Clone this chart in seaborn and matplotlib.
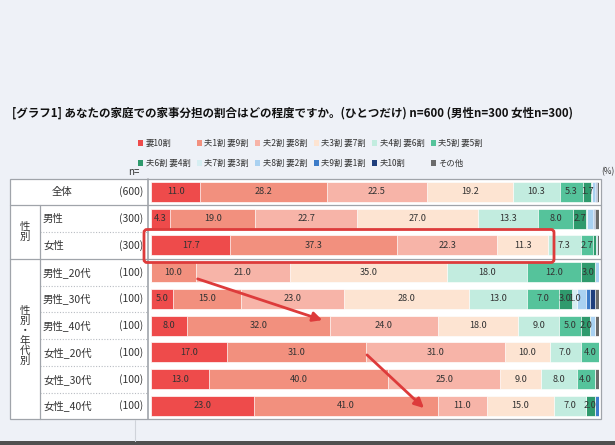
import matplotlib
matplotlib.use("Agg")
import matplotlib.pyplot as plt
import seaborn as sns
import pandas as pd
from matplotlib.patches import Rectangle, FancyBboxPatch, Patch, FancyArrowPatch

sns.set_style("white")
plt.rcParams["font.family"] = ["Noto Sans CJK JP", "DejaVu Sans"]

# -------------------------------------------------
# Data
# -------------------------------------------------
categories = ["妻10割", "夫1割 妻9割", "夫2割 妻8割", "夫3割 妻7割", "夫4割 妻6割",
              "夫5割 妻5割", "夫6割 妻4割", "夫7割 妻3割", "夫8割 妻2割",
              "夫9割 妻1割", "夫10割", "その他"]
rows = ["全体", "男性", "女性", "男性_20代", "男性_30代", "男性_40代",
        "女性_20代", "女性_30代", "女性_40代"]
n_labels = ["(600)", "(300)", "(300)", "(100)", "(100)", "(100)", "(100)", "(100)", "(100)"]

v_all = [11.0, 28.2, 22.5, 19.2, 10.3, 5.3, 1.7, 0.2, 0.7, 0.3, 0.2, 0.5]
v_male = [4.3, 19.0, 22.7, 27.0, 13.3, 8.0, 2.7, 0.3, 1.3, 0.3, 0.3, 0.7]
v_female = [17.7, 37.3, 22.3, 11.3, 7.3, 2.7, 0.7, 0.0, 0.0, 0.3, 0.0, 0.3]
v_m20 = [0.0, 10.0, 21.0, 35.0, 18.0, 12.0, 3.0, 0.0, 1.0, 0.0, 0.0, 0.0]
v_m30 = [5.0, 15.0, 23.0, 28.0, 13.0, 7.0, 3.0, 1.0, 2.0, 1.0, 1.0, 1.0]
v_m40 = [8.0, 32.0, 24.0, 18.0, 9.0, 5.0, 2.0, 0.0, 1.0, 0.0, 0.0, 1.0]
v_f20 = [17.0, 31.0, 31.0, 10.0, 7.0, 4.0, 0.0, 0.0, 0.0, 0.0, 0.0, 0.0]
v_f30 = [13.0, 40.0, 25.0, 9.0, 8.0, 4.0, 0.0, 0.0, 0.0, 0.0, 0.0, 1.0]
v_f40 = [23.0, 41.0, 11.0, 15.0, 7.0, 0.0, 2.0, 0.0, 0.0, 1.0, 0.0, 0.0]

colors = ["#ee4b4b", "#f2907e", "#f7b4a8", "#fde4d2", "#c2ecdf", "#55c39b",
          "#2f9a6d", "#d6eef2", "#a9d1f1", "#3d7cc9", "#1f3e7c", "#6b6b6b"]

title = "[グラフ1] あなたの家庭での家事分担の割合はどの程度ですか。(ひとつだけ) n=600 (男性n=300 女性n=300)"

values = [v_all, v_male, v_female, v_m20, v_m30, v_m40, v_f20, v_f30, v_f40]

# long table with cumulative ends
recs = []
for r, vals in zip(rows, values):
    cum = 0.0
    for c, v in zip(categories, vals):
        cum += v
        recs.append({"row": r, "category": c, "value": v, "cum": cum})
df = pd.DataFrame(recs)

# -------------------------------------------------
# Layout (pixel coordinates)
# -------------------------------------------------
W, H = 615, 445
y_top, row_h = 178.5, 26.75
y_bot = y_top + row_h * len(rows)
x0, x100 = 151, 599

fig = plt.figure(figsize=(W / 100, H / 100), dpi=100)
fig.patch.set_facecolor("#eef1f7")

bg = fig.add_axes([0, 0, 1, 1])
bg.set_xlim(0, W)
bg.set_ylim(H, 0)
bg.axis("off")

line_c = "#a0a4aa"
bg.add_patch(Rectangle((10, y_top), 591, y_bot - y_top, facecolor="white",
                       edgecolor=line_c, lw=0.9))
b = [y_top + k * row_h for k in range(len(rows) + 1)]
for k in (1, 3):
    bg.plot([10, 601], [b[k], b[k]], color=line_c, lw=0.9)
for k in (2, 4, 5, 6, 7, 8):
    bg.plot([40, 148], [b[k], b[k]], color="#b8bcc2", lw=0.8, ls=(0, (1, 1.5)))
bg.plot([40, 40], [b[1], b[-1]], color=line_c, lw=0.9)
bg.plot([148, 148], [y_top, y_bot], color=line_c, lw=1.2)
bg.plot([135, 135], [y_bot + 1, 441], color="#cfd3da", lw=0.8)
bg.add_patch(Rectangle((0, 441), W, 4, facecolor="#505050", edgecolor="none"))

bg.text(12, 113, title, fontsize=8.3, fontweight="bold", va="center", color="#111111")
bg.text(128, 172, "n=", fontsize=7, va="center", color="#333333")
bg.text(614, 172, "(%)", fontsize=6, va="center", ha="right", color="#333333")

# row labels
for i, (r, n) in enumerate(zip(rows, n_labels)):
    yc = y_top + row_h * (i + 0.5)
    xl = 52 if i == 0 else 43
    bg.text(xl, yc, r, fontsize=7.5, va="center", color="#333333")
    bg.text(143, yc, n, fontsize=7.5, va="center", ha="right", color="#333333")

bg.text(25, (b[1] + b[3]) / 2, "性\n別", fontsize=7.5, ha="center", va="center",
        linespacing=1.0, color="#333333")
bg.text(25, (b[3] + b[-1]) / 2 - 3, "性\n別\n・\n年\n代\n別", fontsize=7.5, ha="center",
        va="center", linespacing=1.0, color="#333333")

# -------------------------------------------------
# Stacked bars
# -------------------------------------------------
ax = fig.add_axes([x0 / W, 1 - y_bot / H, (x100 - x0) / W, (y_bot - y_top) / H])
ax.patch.set_alpha(0)
for i in reversed(range(len(categories))):
    sub = df[df["category"] == categories[i]]
    sns.barplot(data=sub, x="cum", y="row", order=rows, color=colors[i],
                saturation=1, width=0.74, errorbar=None, ax=ax,
                edgecolor="white", linewidth=0.5)

for ri, r in enumerate(rows):
    sub = df[df["row"] == r].reset_index(drop=True)
    for ci, rec in sub.iterrows():
        if ci <= 7 and rec["value"] >= 1.0:
            xc = rec["cum"] - rec["value"] / 2
            ax.text(xc, ri, f"{rec['value']:.1f}", ha="center", va="center",
                    fontsize=6.6, color="#333333")

ax.set_xlim(0, 100)
ax.set_ylim(len(rows) - 0.5, -0.5)
ax.set_axis_off()

# legend (row-major order in 6 columns)
handles = [Patch(facecolor=c, edgecolor="none") for c in colors]
order = []
for k in range(6):
    order += [k, k + 6]
fig.legend([handles[k] for k in order], [categories[k] for k in order], ncol=6,
           loc="upper left", bbox_to_anchor=(138 / W, 1 - 139 / H), frameon=False,
           fontsize=6, handlelength=0.6, handleheight=0.6, handletextpad=0.3,
           columnspacing=0.75, labelspacing=1.3, borderpad=0, borderaxespad=0,
           labelcolor="#333333")

# -------------------------------------------------
# Annotations
# -------------------------------------------------
ov = fig.add_axes([0, 0, 1, 1])
ov.set_xlim(0, W)
ov.set_ylim(H, 0)
ov.axis("off")
ov.patch.set_alpha(0)
red = "#dd3b3b"
ov.add_patch(FancyBboxPatch((144, 229.5), 410, 33, boxstyle="round,pad=0,rounding_size=3",
                            facecolor="none", edgecolor=red, lw=2))
for (xs, ys), (xe, ye) in [((195, 278), (325, 321)), ((365, 353), (426, 410))]:
    ov.add_patch(FancyArrowPatch((xs, ys), (xe, ye), arrowstyle="-|>", mutation_scale=14,
                                 color=red, lw=2))

fig.savefig("out.png", dpi=100, facecolor=fig.get_facecolor())
